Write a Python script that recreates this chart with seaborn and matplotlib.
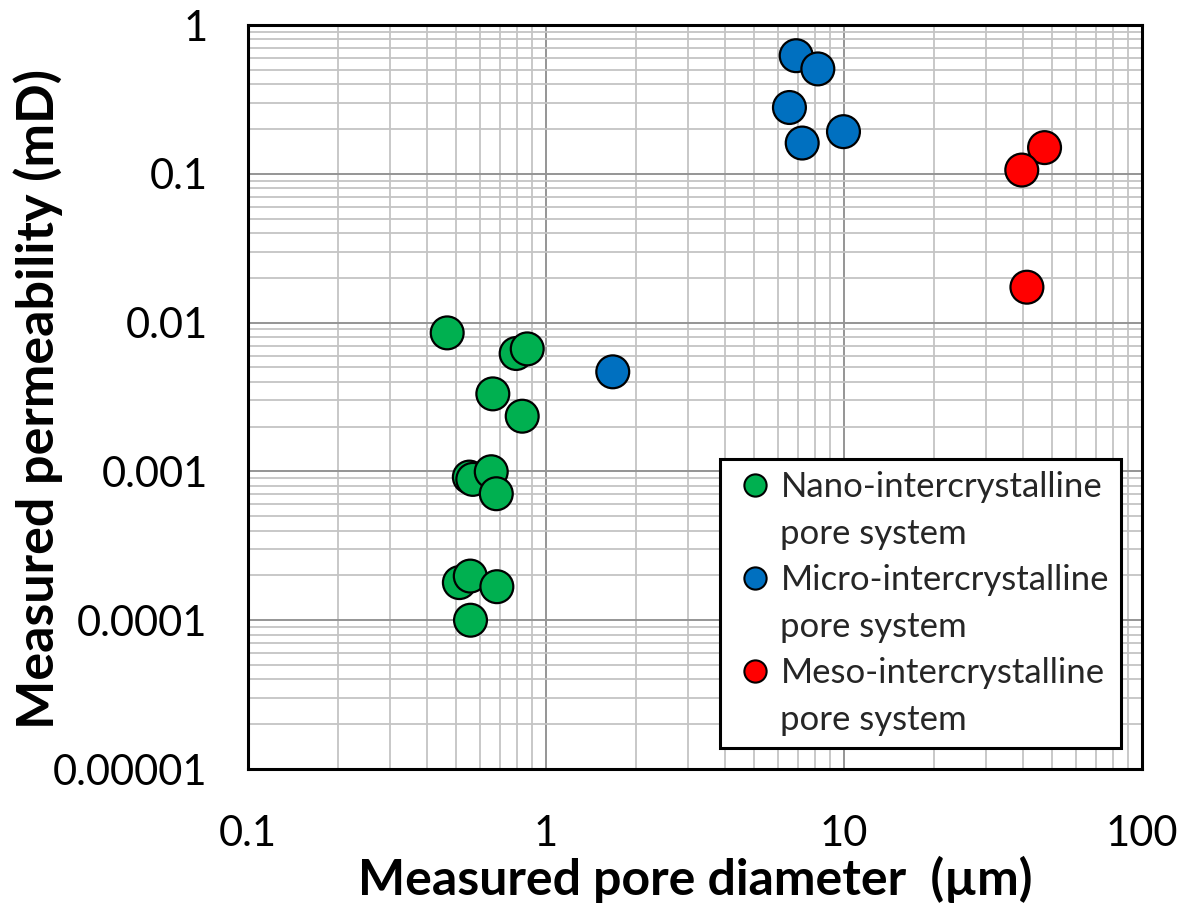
import matplotlib
matplotlib.use("Agg")
import matplotlib.pyplot as plt
from matplotlib.lines import Line2D
from matplotlib.ticker import FixedLocator, FixedFormatter, LogLocator, NullFormatter
import seaborn as sns
import pandas as pd

# Pore diameter (µm) and permeability (mD) for each pore system
nano_diameter = [0.466, 0.794, 0.865, 0.663, 0.832, 0.553, 0.568, 0.655, 0.681,
                 0.512, 0.557, 0.684, 0.558]
nano_perm = [0.00853, 0.0062, 0.00666, 0.00332, 0.00235, 0.000916, 0.000884,
             0.000995, 0.000708, 0.000179, 0.000198, 0.000168, 0.0001]

micro_diameter = [1.675, 6.91, 8.17, 6.56, 7.24, 9.96]
micro_perm = [0.00467, 0.622, 0.507, 0.279, 0.161, 0.192]

meso_diameter = [47.1, 39.5, 41.1]
meso_perm = [0.150, 0.106, 0.0173]

systems = ["Nano-intercrystalline\npore system",
           "Micro-intercrystalline\npore system",
           "Meso-intercrystalline\npore system"]
colors = ["#00B050", "#0070C0", "#FF0000"]

x_ticks = [0.1, 1, 10, 100]
x_tick_labels = ["0.1", "1", "10", "100"]
y_ticks = [0.00001, 0.0001, 0.001, 0.01, 0.1, 1]
y_tick_labels = ["0.00001", "0.0001", "0.001", "0.01", "0.1", "1"]

df = pd.DataFrame({
    "diameter": nano_diameter + micro_diameter + meso_diameter,
    "permeability": nano_perm + micro_perm + meso_perm,
    "system": [systems[0]] * len(nano_diameter)
              + [systems[1]] * len(micro_diameter)
              + [systems[2]] * len(meso_diameter),
})

sns.set_theme(style="white")
plt.rcParams["font.family"] = ["Lato", "DejaVu Sans"]

fig = plt.figure(figsize=(11.85, 9.13), dpi=100)
ax = fig.add_axes([0.2093, 0.1577, 0.7544, 0.8149])

sns.scatterplot(data=df, x="diameter", y="permeability", hue="system",
                hue_order=systems, palette=colors, s=560,
                edgecolor="black", linewidth=1.6, ax=ax, zorder=3, legend=False)

ax.set_xscale("log")
ax.set_yscale("log")
ax.set_xlim(0.1, 100)
ax.set_ylim(0.00001, 1)

ax.xaxis.set_major_locator(FixedLocator(x_ticks))
ax.xaxis.set_major_formatter(FixedFormatter(x_tick_labels))
ax.yaxis.set_major_locator(FixedLocator(y_ticks))
ax.yaxis.set_major_formatter(FixedFormatter(y_tick_labels))
for axis in (ax.xaxis, ax.yaxis):
    axis.set_minor_locator(LogLocator(base=10, subs=range(2, 10), numticks=20))
    axis.set_minor_formatter(NullFormatter())

ax.grid(which="major", color="#959595", linewidth=1.4)
ax.grid(which="minor", color="#c4c4c4", linewidth=1.3)
ax.set_axisbelow(True)

ax.tick_params(which="major", direction="out", length=7, width=2, color="black",
               labelsize=30, labelcolor="black")
ax.tick_params(axis="x", which="major", pad=26)
ax.tick_params(axis="y", which="major", pad=22)
ax.tick_params(which="minor", length=0)

for spine in ax.spines.values():
    spine.set_color("black")
    spine.set_linewidth(2.2)

ax.set_xlabel("Measured pore diameter  (µm)", fontsize=36, fontweight="bold",
              color="black", labelpad=2)
ax.set_ylabel("Measured permeability (mD)", fontsize=37.5, fontweight="bold",
              color="black")
ax.yaxis.set_label_coords(-0.207, 0.497)

# Legend: marker on the first line of each label, second line without a marker
handles, labels = [], []
for name, c in zip(systems, colors):
    first, second = name.split("\n")
    handles.append(Line2D([0], [0], marker="o", linestyle="none", markersize=16,
                          markerfacecolor=c, markeredgecolor="black",
                          markeredgewidth=1.5))
    labels.append(first)
    handles.append(Line2D([0], [0], linestyle="none", marker=None))
    labels.append(second)

leg = ax.legend(handles, labels, loc="lower right", fontsize=25,
                frameon=True, fancybox=False, framealpha=1, edgecolor="black",
                borderpad=0.35, labelspacing=0.42, handletextpad=0.05,
                handlelength=1.35, borderaxespad=0.6)
leg.get_frame().set_linewidth(2.2)

fig.savefig("out.png", dpi=100, facecolor="white")
